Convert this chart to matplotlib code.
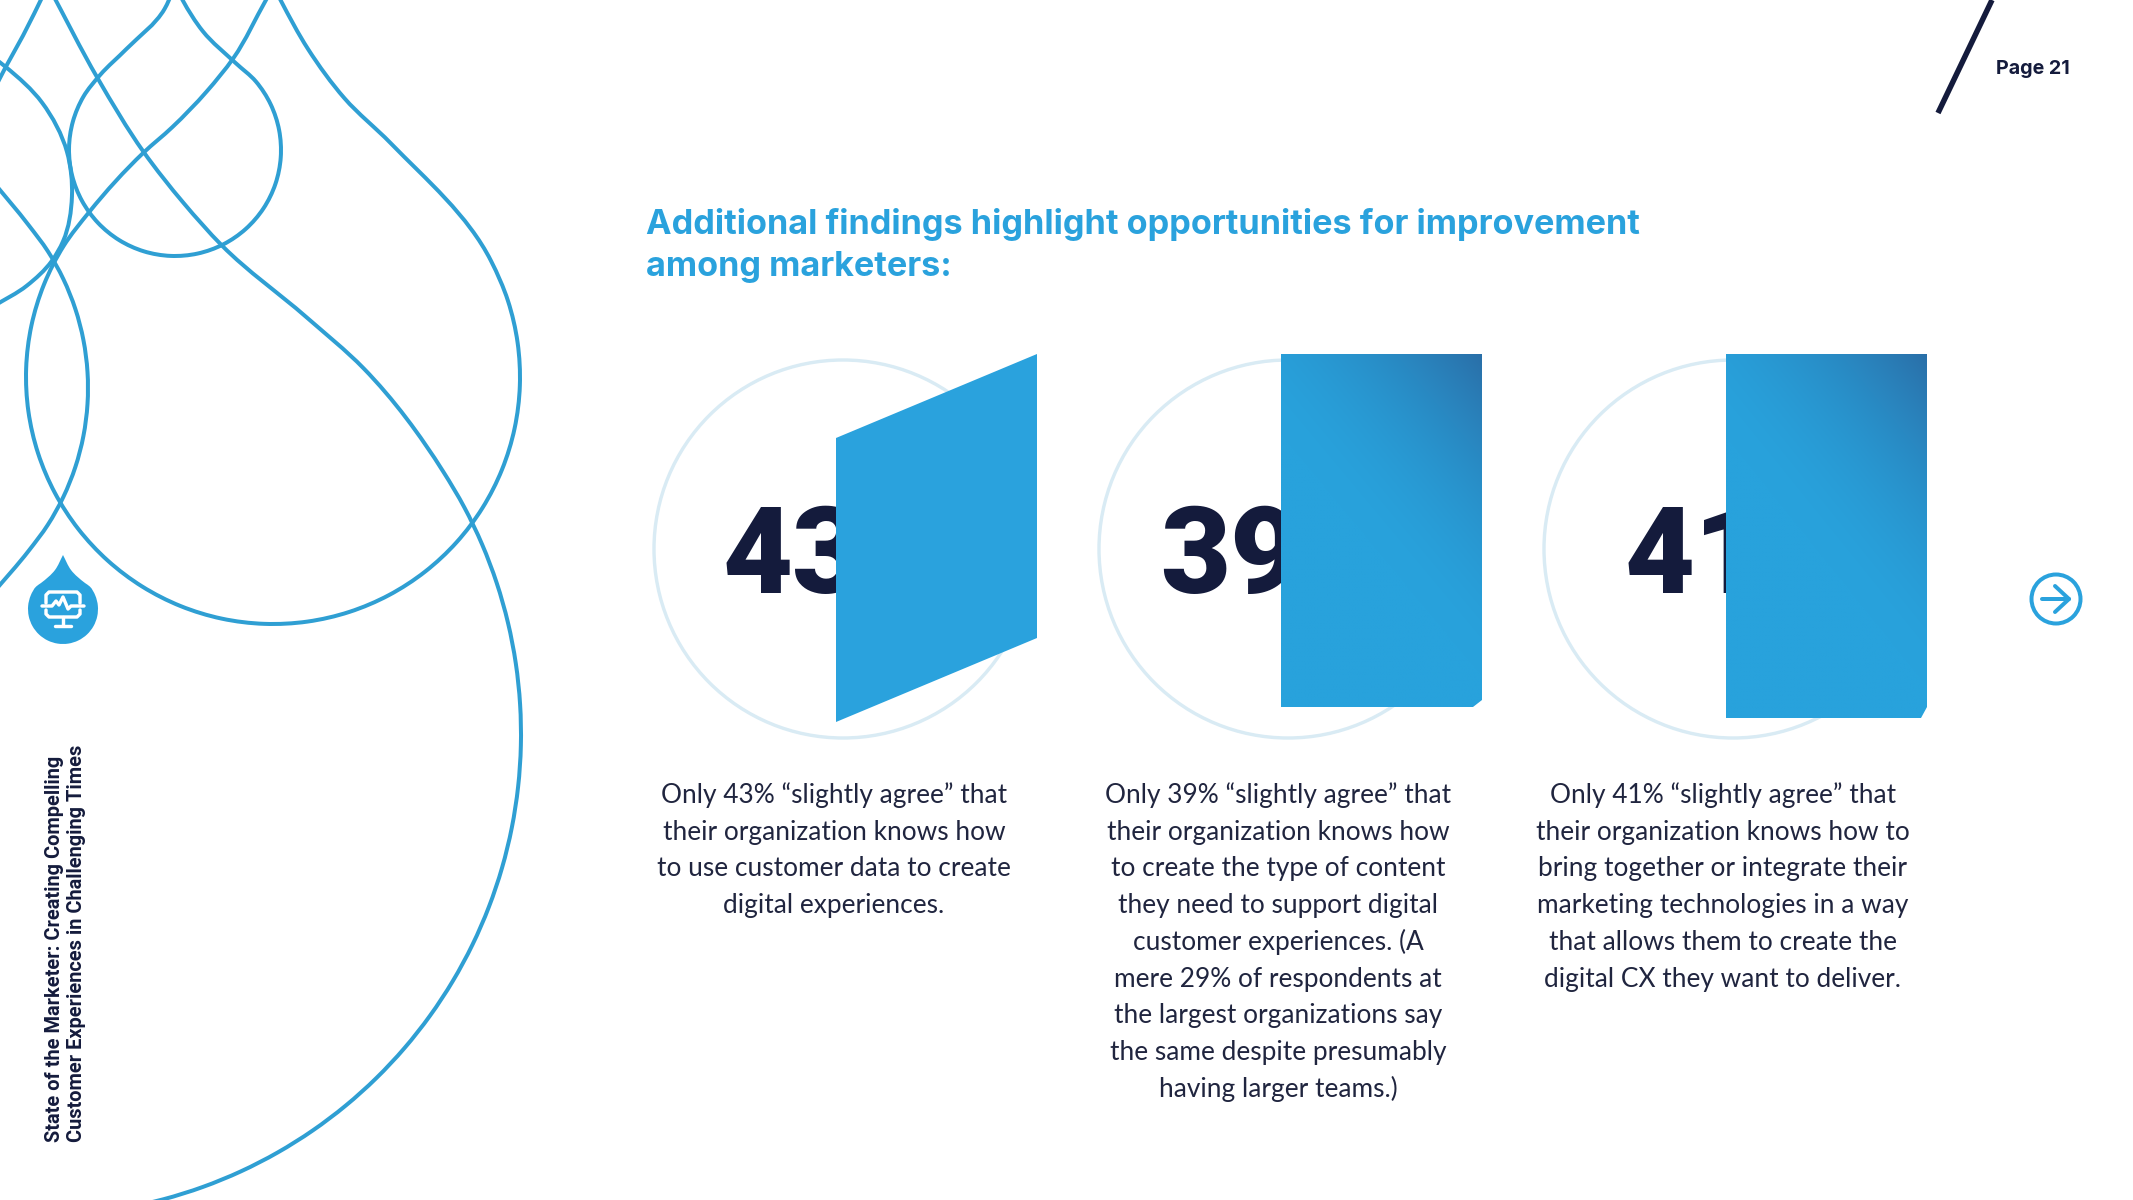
import numpy as np
import matplotlib
matplotlib.use("Agg")
import matplotlib.pyplot as plt
from matplotlib.path import Path
from matplotlib.patches import PathPatch, Circle, Polygon

# ---- content ----
values = [43, 39, 41]
title_lines = ["Additional findings highlight opportunities for improvement",
               "among marketers:"]
page_label = "Page 21"
side_lines = ["State of the Marketer: Creating Compelling",
              "Customer Experiences in Challenging Times"]
body_1 = ["Only 43% \u201cslightly agree\u201d that", "their organization knows how",
          "to use customer data to create", "digital experiences."]
body_2 = ["Only 39% \u201cslightly agree\u201d that", "their organization knows how",
          "to create the type of content", "they need to support digital",
          "customer experiences. (A", "mere 29% of respondents at",
          "the largest organizations say", "the same despite presumably",
          "having larger teams.)"]
body_3 = ["Only 41% \u201cslightly agree\u201d that", "their organization knows how to",
          "bring together or integrate their", "marketing technologies in a way",
          "that allows them to create the", "digital CX they want to deliver."]

# ---- styling / layout ----
W, H = 2133, 1200
BLUE = "#2AA2DD"
LINE = "#2F9FD3"
NAVY = "#141B3C"
RING = "#D9EBF4"
PX = 72 / 100

fig = plt.figure(figsize=(W / 100, H / 100), dpi=100, facecolor="white")
ax = fig.add_axes([0, 0, 1, 1])
ax.set_xlim(0, W)
ax.set_ylim(H, 0)
ax.axis("off")
renderer = fig.canvas.get_renderer()


def spline(points):
    """Chord-parametrised cubic through the points, so uneven spacing stays smooth."""
    p = np.asarray(points, float)
    seg = p[1:] - p[:-1]
    dt = np.maximum(np.hypot(seg[:, 0], seg[:, 1]), 1e-6)
    vel = seg / dt[:, None]
    m = np.zeros_like(p)
    m[0], m[-1] = vel[0], vel[-1]
    m[1:-1] = (vel[1:] * dt[:-1, None] + vel[:-1] * dt[1:, None]) / (dt[:-1, None] + dt[1:, None])
    verts, codes = [p[0]], [Path.MOVETO]
    for i in range(len(p) - 1):
        verts += [p[i] + m[i] * dt[i] / 3, p[i + 1] - m[i + 1] * dt[i] / 3, p[i + 1]]
        codes += [Path.CURVE4] * 3
    return Path(verts, codes)


def zoomed(points):
    return [(x / 2.613, y / 2.24) for x, y in points]


def arc(cx, cy, r, a0, a1, n):
    # angles in degrees, screen coordinates (y down)
    t = np.radians(np.linspace(a0, a1, n))
    return list(zip(cx + r * np.cos(t), cy + r * np.sin(t)))


# decorative outline curves: circular bellies with traced tails
curve_a = (zoomed([(715, -30), (695, 0), (610, 130), (540, 205), (450, 285), (375, 342)])
           + arc(273, 377, 247, 222, -28, 26)
           + zoomed([(1020, 320), (900, 220), (805, 110), (733, 0), (715, -30)]))
curve_b = (zoomed([(130, -25), (255, 175), (375, 340), (480, 455), (580, 550), (800, 710), (950, 825)])
           + arc(39.5, 734, 481.5, -33, 80, 24))
curve_c = (zoomed([(452, -20), (430, 20), (330, 110)])
           + arc(175, 150, 106, 225, 225 - 280, 20)
           + zoomed([(530, 70), (477, 0), (462, -25)]))
curve_d = zoomed([(118, -20), (60, 80), (15, 150), (-15, 200)])
curve_e = zoomed([(-15, 130), (15, 150), (110, 230), (175, 340), (188, 440), (165, 540), (135, 585),
                  (70, 640), (-15, 685)])
curve_f = zoomed([(-20, 405)]) + arc(-165, 388, 253, -40, 40, 12) + zoomed([(-20, 1330)])
for pts in (curve_a, curve_b, curve_c, curve_d, curve_e, curve_f):
    ax.add_patch(PathPatch(spline(pts), fill=False, ec=LINE, lw=4 * PX, zorder=1))

# droplet badge with monitor icon
drop = [(63, 555)] + [(71, 570), (85, 583)] + arc(63, 609, 35, -40, 220, 16) + [(41, 583), (55, 570), (63, 555)]
ax.add_patch(PathPatch(spline(drop), fc=BLUE, ec="none", zorder=2))
icon = dict(color="white", lw=3.4 * PX, solid_capstyle="round", solid_joinstyle="round", zorder=3)
ax.plot([46, 46, 49, 77, 80, 80], [603, 595, 592, 592, 595, 603], **icon)
ax.plot([46, 46, 49, 77, 80, 80], [610, 614, 617, 617, 614, 610], **icon)
ax.plot([42, 52, 56, 59, 63, 68, 71, 84], [606, 606, 601, 605, 597, 609, 606, 606], **icon)
ax.plot([63, 63], [617, 625], **icon)
ax.plot([55, 71], [626, 626], **icon)

# rings and numbers
ring_x = [843, 1288, 1733]
num_x = [722, 1160, 1625]
for cx, nx, v in zip(ring_x, num_x, values):
    ax.add_patch(Circle((cx, 549), 189, fill=False, ec=RING, lw=3.4 * PX, zorder=1))
    ax.text(nx, 593, str(v), fontfamily="Roboto", fontweight="black", fontsize=121 * PX, color=NAVY,
            ha="left", va="baseline", zorder=4)

# covering panels
ax.add_patch(Polygon([(836, 438), (1037, 354), (1037, 638), (836, 722)], closed=True, fc=BLUE, ec="none", zorder=5))
dark = np.array(matplotlib.colors.to_rgb("#2A6FA8"))
base = np.array(matplotlib.colors.to_rgb("#28A2DC"))
panels = [([(1281, 354), (1482, 354), (1482, 700), (1473, 707), (1281, 707)], 1281, 1482, 354, 707),
          ([(1726, 354), (1927, 354), (1927, 707), (1921, 718), (1726, 718)], 1726, 1927, 354, 718)]
for poly, x0, x1, y0, y1 in panels:
    xx, yy = np.meshgrid(np.linspace(0, 1, 200), np.linspace(0, 1, 300))
    d = np.clip(1 - ((1 - xx) * 0.75 + yy * 1.1), 0, 1) ** 1.8
    img = base + (dark - base) * d[..., None]
    im = ax.imshow(img, extent=(x0, x1, y1, y0), aspect="auto", zorder=5, interpolation="bilinear")
    patch = Polygon(poly, closed=True, transform=ax.transData, fc="none", ec="none")
    ax.add_patch(patch)
    im.set_clip_path(patch)
ax.set_xlim(0, W)
ax.set_ylim(H, 0)


def fitted(text, width, **kw):
    t = ax.text(0, 0, text, fontsize=20, **kw)
    size = 20 * width / t.get_window_extent(renderer).width
    t.remove()
    return size


# title
title_size = fitted(title_lines[0], 996, fontfamily="Inter", fontweight="bold")
for y, line in zip([234, 276], title_lines):
    ax.text(646, y, line, fontfamily="Inter", fontweight="bold", fontsize=title_size, color=BLUE, va="baseline")

# body copy
body_size = fitted(body_1[1], 342, fontfamily="Lato")
for cx, lines in zip([834, 1278, 1723], [body_1, body_2, body_3]):
    for i, line in enumerate(lines):
        ax.text(cx, 803 + i * 36.7, line, fontfamily="Lato", fontsize=body_size, color="#20253F",
                ha="center", va="baseline")

# page marker
ax.plot([1992, 1938], [0, 113], color=NAVY, lw=5.5 * PX, solid_capstyle="butt")
ax.text(1996, 74, page_label, fontfamily="Inter", fontweight="bold",
        fontsize=fitted(page_label, 74, fontfamily="Inter", fontweight="bold"), color=NAVY, va="baseline")

# side text
side_size = fitted(side_lines[0], 386, fontfamily="Roboto", fontweight="bold")
for x, line in zip([60, 82], side_lines):
    ax.text(x, 1142, line, rotation=90, rotation_mode="anchor", fontfamily="Roboto", fontweight="bold",
            fontsize=side_size, color=NAVY, ha="left", va="baseline")

# next-page arrow
ax.add_patch(Circle((2056, 599), 24.5, fill=False, ec=BLUE, lw=4 * PX))
arrow = dict(color=BLUE, lw=4 * PX, solid_capstyle="round", solid_joinstyle="round")
ax.plot([2042, 2069], [599, 599], **arrow)
ax.plot([2055, 2069, 2055], [586, 599, 612], **arrow)

fig.savefig("out.png", dpi=100, facecolor="white")
